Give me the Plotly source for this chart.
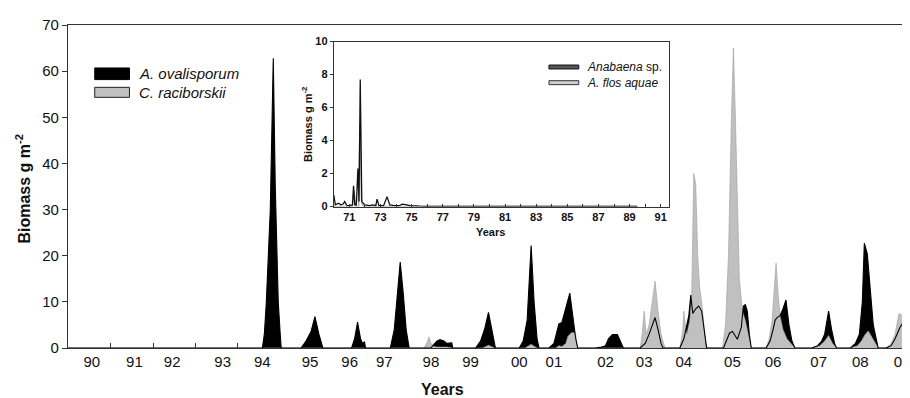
import plotly.graph_objects as go

# ---------------- main chart data (x = sample position along the record) ----------------
ovalisporum_x = [0,
    196, 198, 200, 204, 207, 209, 212, 214, 215,
    235, 240, 245, 249, 253, 256, 257,
    286, 289, 292, 295, 297, 299, 300,
    325, 329, 332, 335, 338, 341, 344,
    366, 369, 372, 375, 379, 382, 385, 387, 388,
    411, 416, 420, 424, 427, 430, 431,
    455, 459, 463, 467, 470, 473, 475,
    485, 490, 493, 495, 498, 502, 506, 509, 512, 514,
    532, 538, 542, 545, 549, 554, 557, 560,
    577, 582, 586, 589, 592, 595, 598, 600,
    617, 621, 624, 626, 628, 630, 633, 636, 639, 642, 644,
    661, 664, 667, 670, 675, 679, 681, 683, 685, 687, 689,
    704, 708, 711, 713, 715, 718, 721, 724, 727, 730, 733,
    750, 756, 760, 763, 767, 770, 773, 775,
    789, 794, 798, 801, 803, 806, 809, 812, 815, 817,
    825, 830, 834, 837, 839, 842]
ovalisporum_y = [0,
    0, 3, 10, 30, 62.8, 35, 10, 3, 0,
    0, 1.5, 3.5, 6.8, 3, 0.5, 0,
    0, 2, 5.6, 2, 1, 1.3, 0,
    0, 4, 12, 18.6, 12, 4, 0,
    0, 0.8, 1.5, 1.8, 1.5, 1.0, 1.0, 1.1, 0,
    0, 1.5, 4, 7.7, 4, 1, 0,
    0, 1.5, 6, 22.2, 10, 2, 0,
    0, 1, 3.5, 5.2, 5.5, 9, 11.9, 7, 2, 0,
    0, 0.2, 0.5, 2, 2.9, 2.9, 1.5, 0,
    0, 1, 3, 5, 6.6, 4, 1, 0,
    0, 2, 5, 7, 11.5, 7.5, 8.5, 9.1, 8, 3, 0,
    0, 1.5, 3.2, 3.6, 1.9, 4.5, 9.1, 9.4, 8, 3, 0,
    0, 1.5, 4, 6, 6.6, 7, 8.5, 10.4, 5, 1.5, 0,
    0, 0.5, 1.5, 3, 8, 4, 1, 0,
    0, 1, 3, 10, 22.7, 20.4, 12, 5, 2, 0,
    0, 0.5, 2, 3.4, 4.5, 5.5]

raciborskii_x = [0,
    359, 362, 364, 366, 369, 372, 382, 388,
    418, 422, 424, 427, 430,
    461, 465, 467, 470, 473,
    492, 495, 498, 502, 504, 507, 509, 512, 513, 514,
    577, 579, 581, 583, 586, 589, 592, 595, 598, 602,
    617, 620, 621, 623, 624, 627, 629, 631, 633, 635, 637, 639, 641, 643, 644,
    660, 663, 666, 669, 671, 673, 675, 677, 680, 683, 686, 689,
    704, 707, 710, 712, 714, 716, 718, 721, 725, 729, 733,
    750, 758, 763, 767, 771, 775,
    789, 796, 800, 804, 807, 810, 814, 817,
    825, 830, 834, 838, 842]
raciborskii_y = [0,
    0, 1.2, 2.4, 1.0, 0.3, 0.2, 0.2, 0,
    0, 0.4, 0.6, 0.3, 0,
    0, 0.5, 0.8, 0.4, 0,
    0, 0.5, 0.3, 1, 2.5, 3.2, 3.4, 3, 1, 0,
    0, 3, 8, 3, 5, 10, 14.5, 8, 3, 0,
    0, 4, 8, 4, 3, 6, 12, 37.8, 35.5, 20, 13, 10, 5, 1, 0,
    0, 5, 20, 50, 65, 50, 30, 15, 8, 6, 3, 0,
    0, 2, 6, 12, 18.4, 12, 7, 4, 2, 1, 0,
    0, 0.5, 1.5, 2.7, 1, 0,
    0, 0.5, 1.5, 3, 3.7, 2.5, 1, 0,
    0, 1, 3, 7.5, 6.9]

year_label_pos = [24, 67, 105, 156, 196, 244, 284, 319, 366, 406,
                  455, 490, 542, 581, 621, 670, 711, 757, 799, 841]
year_labels = ["90", "91", "92", "93", "94", "95", "96", "97", "98", "99",
               "00", "01", "02", "03", "04", "05", "06", "07", "08", "09"]
year_tick_pos = [43, 86, 129, 171]
main_y_ticks = [0, 10, 20, 30, 40, 50, 60, 70]

# ---------------- inset data (years 1970-1991) ----------------
anabaena_x = [70.0, 70.1, 70.3, 70.45, 70.6, 70.7, 70.85, 71.0, 71.2, 71.27, 71.35,
              71.45, 71.55, 71.62, 71.7, 71.8, 72.0, 72.3, 72.5, 72.7, 72.78, 72.9,
              73.2, 73.42, 73.6, 73.9, 74.2, 74.4, 74.6, 74.9, 75.5, 76.5, 89.5]
anabaena_y = [0.7, 0.1, 0.2, 0.1, 0.15, 0.3, 0.05, 0.05, 0.1, 1.26, 0.1,
              0.1, 2.3, 0.3, 7.7, 0.3, 0.1, 0.05, 0.1, 0.05, 0.45, 0.05,
              0.05, 0.6, 0.1, 0.05, 0.05, 0.15, 0.12, 0.05, 0.02, 0, 0]
flos_x = [70.0, 71.2, 71.3, 71.4, 71.6, 71.68, 71.78, 71.9, 89.5]
flos_y = [0, 0, 1.0, 0, 0, 5.0, 0.3, 0, 0]
inset_x_ticks = list(range(70, 92))
inset_x_labels = [str(v) if v % 2 == 1 else "" for v in inset_x_ticks]
inset_y_ticks = [0, 2, 4, 6, 8, 10]

FONT = "Liberation Sans, Arial, sans-serif"
AXC = "#333333"
BLACK = "#000000"
GREY = "#c0c0c0"

fig = go.Figure()
fig.add_trace(go.Scatter(x=ovalisporum_x, y=ovalisporum_y, fill="tozeroy",
                         fillcolor=BLACK, line=dict(color=BLACK, width=0),
                         mode="lines", showlegend=False, hoverinfo="skip"))
fig.add_trace(go.Scatter(x=raciborskii_x, y=raciborskii_y, fill="tozeroy",
                         fillcolor=GREY, line=dict(color="#9c9c9c", width=0.6),
                         mode="lines", showlegend=False, hoverinfo="skip"))
fig.add_trace(go.Scatter(x=ovalisporum_x, y=ovalisporum_y,
                         line=dict(color=BLACK, width=1.1),
                         mode="lines", showlegend=False, hoverinfo="skip"))

# inset
fig.add_trace(go.Scatter(x=flos_x, y=flos_y, xaxis="x3", yaxis="y3",
                         line=dict(color="#a8a8a8", width=1.4),
                         mode="lines", showlegend=False, hoverinfo="skip"))
fig.add_trace(go.Scatter(x=anabaena_x, y=anabaena_y, xaxis="x3", yaxis="y3",
                         line=dict(color="#111111", width=1.3),
                         mode="lines", showlegend=False, hoverinfo="skip"))

fig.update_layout(
    width=910, height=398,
    margin=dict(l=60, r=8, t=9, b=58),
    paper_bgcolor="white", plot_bgcolor="white",
    font=dict(family=FONT, color="#111111"),
    xaxis=dict(range=[0, 842], showgrid=False, zeroline=False,
               showline=True, linecolor=AXC, linewidth=1.2, mirror=True,
               tickmode="array", tickvals=year_label_pos, ticktext=year_labels,
               ticks="",
               tickfont=dict(size=15, family=FONT, color="#111111"),
               minor=dict(tickmode="array", tickvals=year_tick_pos, ticks="inside",
                          ticklen=5, tickcolor=AXC, tickwidth=1.2)),
    yaxis=dict(range=[0, 70], showgrid=False, zeroline=False,
               showline=True, linecolor=AXC, linewidth=1.2,
               tickmode="array", tickvals=main_y_ticks,
               ticks="outside", ticklen=5, tickcolor=AXC, tickwidth=1.2,
               tickfont=dict(size=15, family=FONT, color="#111111")),
    xaxis3=dict(domain=[0.3183, 0.7197], anchor="y3", range=[70, 91.53],
                showgrid=False, zeroline=False, showline=True, linecolor=AXC,
                linewidth=1, mirror=True,
                tickmode="array", tickvals=inset_x_ticks, ticktext=inset_x_labels,
                ticks="inside", ticklen=3, tickcolor=AXC,
                tickfont=dict(size=11, family=FONT, color="#111111", weight="bold")),
    yaxis3=dict(domain=[0.438, 0.9486], anchor="x3", range=[0, 10],
                showgrid=False, zeroline=False, showline=True, linecolor=AXC,
                linewidth=1, mirror=True,
                tickmode="array", tickvals=inset_y_ticks,
                ticks="outside", ticklen=3, tickcolor=AXC,
                tickfont=dict(size=11, family=FONT, color="#111111", weight="bold")),
)

# main legend
fig.add_shape(type="rect", xref="x domain", yref="y domain",
              x0=0.032, x1=0.0736, y0=0.831, y1=0.867,
              fillcolor=BLACK, line=dict(color=BLACK, width=1))
fig.add_shape(type="rect", xref="x domain", yref="y domain",
              x0=0.032, x1=0.0736, y0=0.776, y1=0.807,
              fillcolor=GREY, line=dict(color="#222222", width=1))
fig.add_annotation(xref="x domain", yref="y domain", x=0.083, y=0.849,
                   text="<i>A. ovalisporum</i>", showarrow=False, xanchor="left",
                   yanchor="middle", font=dict(size=15, family=FONT, color="#111111"))
fig.add_annotation(xref="x domain", yref="y domain", x=0.083, y=0.7915,
                   text="<i>C. raciborskii</i>", showarrow=False, xanchor="left",
                   yanchor="middle", font=dict(size=15, family=FONT, color="#111111"))

# inset legend
fig.add_shape(type="rect", xref="x3 domain", yref="y3 domain",
              x0=0.642, x1=0.731, y0=0.834, y1=0.858,
              fillcolor="#555555", line=dict(color="#111111", width=1))
fig.add_shape(type="rect", xref="x3 domain", yref="y3 domain",
              x0=0.642, x1=0.731, y0=0.739, y1=0.763,
              fillcolor="#d0d0d0", line=dict(color="#333333", width=1))
fig.add_annotation(xref="x3 domain", yref="y3 domain", x=0.751, y=0.846,
                   text="<i>Anabaena</i> sp.", showarrow=False, xanchor="left",
                   yanchor="middle", font=dict(size=12, family=FONT, color="#111111"))
fig.add_annotation(xref="x3 domain", yref="y3 domain", x=0.751, y=0.751,
                   text="<i>A. flos aquae</i>", showarrow=False, xanchor="left",
                   yanchor="middle", font=dict(size=12, family=FONT, color="#111111"))

# axis titles
fig.add_annotation(xref="x domain", yref="y domain", x=0.448, y=-0.127,
                   text="<b>Years</b>", showarrow=False, xanchor="center",
                   yanchor="middle", font=dict(size=16, family=FONT, color="#111111"))
fig.add_annotation(xref="x domain", yref="y domain", x=-0.0534, y=0.495,
                   text="<b>Biomass g m<sup>-2</sup></b>", showarrow=False,
                   textangle=-90, xanchor="center", yanchor="middle",
                   font=dict(size=16, family=FONT, color="#111111"))
fig.add_annotation(xref="x3 domain", yref="y3 domain", x=0.467, y=-0.154,
                   text="<b>Years</b>", showarrow=False, xanchor="center",
                   yanchor="middle", font=dict(size=11, family=FONT, color="#111111"))
fig.add_annotation(xref="x3 domain", yref="y3 domain", x=-0.08, y=0.5,
                   text="<b>Biomass g m<sup>-2</sup></b>", showarrow=False,
                   textangle=-90, xanchor="center", yanchor="middle",
                   font=dict(size=11, family=FONT, color="#111111"))

fig.write_html("out.html")
